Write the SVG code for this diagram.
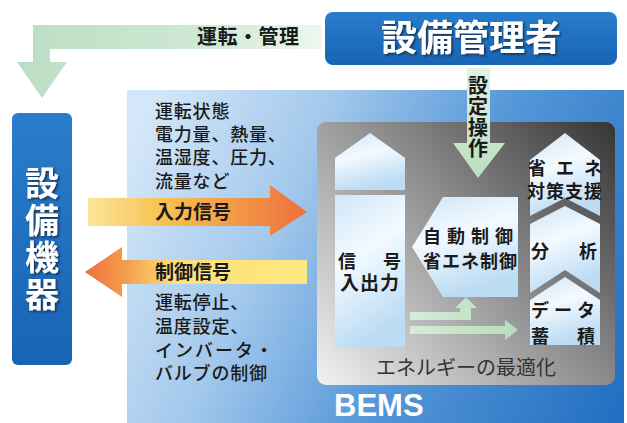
<svg xmlns="http://www.w3.org/2000/svg" width="627" height="423" viewBox="0 0 627 423">
<defs>
<style>
.jp{font-family:"Noto Sans CJK JP","Noto Sans CJK SC",sans-serif;fill:#1a1a1a}
.b{font-weight:700}
.m{font-weight:500}
.lt{fill:url(#skyG)}
.vt{writing-mode:vertical-rl}
</style>
<linearGradient id="panelG" gradientUnits="userSpaceOnUse" x1="127" y1="150" x2="627" y2="380">
<stop offset="0" stop-color="#d4e7f8"/>
<stop offset="0.3" stop-color="#a3c8ec"/>
<stop offset="0.6" stop-color="#5597d8"/>
<stop offset="1" stop-color="#2570c2"/>
</linearGradient>
<linearGradient id="grayG" gradientUnits="userSpaceOnUse" x1="615" y1="122" x2="317" y2="385">
<stop offset="0" stop-color="#353535"/>
<stop offset="0.45" stop-color="#8c8c8c"/>
<stop offset="1" stop-color="#f2f2f2"/>
</linearGradient>
<linearGradient id="skyG" x1="0" y1="0" x2="0.3" y2="1">
<stop offset="0" stop-color="#cfe6f8"/>
<stop offset="0.45" stop-color="#f4faff"/>
<stop offset="1" stop-color="#bcdcf3"/>
</linearGradient>
<linearGradient id="boxG" x1="0" y1="0" x2="0" y2="1">
<stop offset="0" stop-color="#2a7dcc"/>
<stop offset="1" stop-color="#1863b5"/>
</linearGradient>
<linearGradient id="lgreenG" gradientUnits="userSpaceOnUse" x1="20" y1="0" x2="322" y2="0">
<stop offset="0" stop-color="#bcdec4"/>
<stop offset="0.6" stop-color="#cfe8d3"/>
<stop offset="1" stop-color="#eef7ef"/>
</linearGradient>
<linearGradient id="vgreenG" gradientUnits="userSpaceOnUse" x1="0" y1="68" x2="0" y2="178">
<stop offset="0" stop-color="#e2f1e3"/>
<stop offset="1" stop-color="#b9dfc0"/>
</linearGradient>
<linearGradient id="sgreenG" gradientUnits="userSpaceOnUse" x1="410" y1="0" x2="518" y2="0">
<stop offset="0" stop-color="#d5ecd7"/>
<stop offset="1" stop-color="#b6dcbc"/>
</linearGradient>
<linearGradient id="inG" gradientUnits="userSpaceOnUse" x1="88" y1="0" x2="307" y2="0">
<stop offset="0" stop-color="#fde49a"/>
<stop offset="0.35" stop-color="#f8c150"/>
<stop offset="1" stop-color="#ee6f3e"/>
</linearGradient>
<linearGradient id="outG" gradientUnits="userSpaceOnUse" x1="85" y1="0" x2="307" y2="0">
<stop offset="0" stop-color="#ee6f3e"/>
<stop offset="0.2" stop-color="#f4a24e"/>
<stop offset="0.4" stop-color="#fde07a"/>
<stop offset="1" stop-color="#fde87f"/>
</linearGradient>
<filter id="sh" x="-10%" y="-10%" width="130%" height="130%">
<feDropShadow dx="1.5" dy="1.5" stdDeviation="0.8" flood-color="#0a2540" flood-opacity="0.9"/>
</filter>
</defs>

<rect x="0" y="0" width="627" height="423" fill="#ffffff"/>

<g id="bems-panel">
<rect x="127" y="90" width="497" height="333" fill="url(#panelG)"/>
<text x="334" y="416" font-family="Liberation Sans, Arial, sans-serif" font-weight="700" font-size="31" fill="#ffffff">BEMS</text>
</g>

<g id="bems-core">
<rect x="317" y="122" width="298" height="263" rx="9" fill="url(#grayG)"/>
<text class="jp" x="466" y="375" font-size="20" text-anchor="middle" style="fill:#333333">エネルギーの最適化</text>
</g>

<g id="manager">
<rect x="325" y="12" width="292" height="53" rx="8" fill="url(#boxG)"/>
<text class="jp b" x="471" y="51" font-size="36" text-anchor="middle" filter="url(#sh)" style="fill:#ffffff">設備管理者</text>
</g>

<g id="equipment">
<rect x="12" y="113" width="60" height="252" rx="6" fill="url(#boxG)"/>
<text class="jp b vt" x="42" y="240" font-size="34" letter-spacing="3" text-anchor="middle" filter="url(#sh)" style="fill:#ffffff">設備機器</text>
</g>

<g id="signal-io">
<polygon class="lt" points="335,158 370,133 405,158 405,190 335,190"/>
<rect class="lt" x="335" y="195" width="70" height="152"/>
<text class="jp b" x="338" y="268" font-size="18" letter-spacing="4.5">信　号</text>
<text class="jp b" x="340" y="290" font-size="19" letter-spacing="1">入出力</text>
</g>

<g id="auto-control">
<polygon class="lt" points="443,197 518,197 518,297 443,297 412,247"/>
<text class="jp b" x="423" y="243" font-size="18" letter-spacing="6">自動制御</text>
<text class="jp b" x="423" y="268" font-size="18" letter-spacing="1">省エネ制御</text>
</g>

<g id="support">
<polygon class="lt" points="530,160 565,133 600,160 600,216 565,198 530,216"/>
<text class="jp b" x="528" y="175" font-size="18" letter-spacing="10">省エネ</text>
<text class="jp b" x="527" y="198" font-size="18" letter-spacing="1">対策支援</text>
</g>

<g id="analysis">
<polygon class="lt" points="530,224 565,206 600,224 600,293 565,270 530,293"/>
<text class="jp b" x="531" y="258" font-size="18" letter-spacing="30">分析</text>
</g>

<g id="data-store">
<polygon class="lt" points="530,300 565,277 600,300 600,345 530,345"/>
<text class="jp b" x="531" y="317" font-size="18" letter-spacing="5">データ</text>
<text class="jp b" x="531" y="343" font-size="18" letter-spacing="28">蓄積</text>
</g>

<g id="connectors">
<path d="M322,25 H33 V62 H17 L42,98 L67,62 H50 V49 H322 Z" fill="url(#lgreenG)"/>
<path d="M467,68 H490 V143 H505 L478,178 L453,143 H467 Z" fill="url(#vgreenG)"/>
<path d="M88,198 H270 V185 L307,212 L270,236 V226 H88 Z" fill="url(#inG)"/>
<path d="M307,260 H122 V247 L85,272 L122,297 V284 H307 Z" fill="url(#outG)"/>
<path d="M410,312 H460 V308 H455 L466,297 L477,308 H471 V320 H410 Z" fill="url(#sgreenG)"/>
<path d="M410,326 H505 V320 L518,330 L505,340 V334 H410 Z" fill="url(#sgreenG)"/>
</g>

<g id="labels">
<text class="jp b" x="197" y="44" font-size="20" letter-spacing="0.5">運転・管理</text>
<text class="jp b vt" x="478" y="117" font-size="20" letter-spacing="1" text-anchor="middle">設定操作</text>
<text class="jp m" font-size="18" letter-spacing="0.8"><tspan x="155" y="118">運転状態</tspan><tspan x="155" y="141">電力量、熱量、</tspan><tspan x="155" y="164">温湿度、圧力、</tspan><tspan x="155" y="188">流量など</tspan></text>
<text class="jp b" x="155" y="219" font-size="19">入力信号</text>
<text class="jp b" x="155" y="279" font-size="19">制御信号</text>
<text class="jp m" font-size="18" letter-spacing="0.8"><tspan x="155" y="309">運転停止、</tspan><tspan x="155" y="333">温度設定、</tspan><tspan x="155" y="357" letter-spacing="2">インバータ・</tspan><tspan x="155" y="380">バルブの制御</tspan></text>
</g>
</svg>
